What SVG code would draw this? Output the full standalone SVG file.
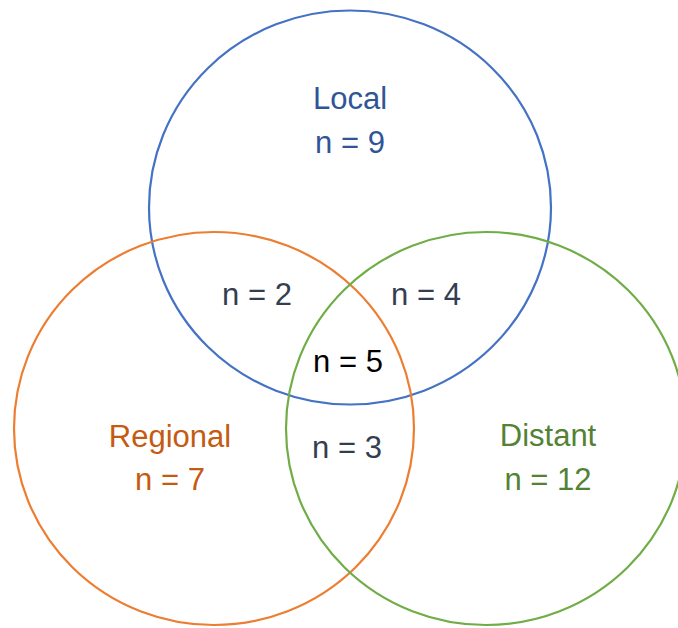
<svg xmlns="http://www.w3.org/2000/svg" width="678" height="628" viewBox="0 0 678 628">
<style>
.c{fill:none;stroke-width:2.2}
.t{font-family:"Liberation Sans",Arial,sans-serif;font-size:31px;text-anchor:middle}
.g{fill:#333f50}
</style>
<rect width="678" height="628" fill="#fff"/>
<g id="local"><ellipse class="c" cx="350" cy="207.5" rx="201" ry="197" stroke="#4472c4"/>
<text class="t" x="350" y="109" fill="#2f5597">Local</text>
<text class="t" x="350" y="153" fill="#2f5597">n = 9</text></g>
<g id="regional"><ellipse class="c" cx="214" cy="428.5" rx="200" ry="196.5" stroke="#ed7d31"/>
<text class="t" x="170" y="447" fill="#c55a11">Regional</text>
<text class="t" x="170" y="490" fill="#c55a11">n = 7</text></g>
<g id="distant"><ellipse class="c" cx="486" cy="428.5" rx="200" ry="196.5" stroke="#70ad47"/>
<text class="t" x="548" y="446" fill="#548235">Distant</text>
<text class="t" x="548" y="490" fill="#548235">n = 12</text></g>
<g id="overlaps">
<text class="t g" x="257" y="305">n = 2</text>
<text class="t g" x="426" y="305">n = 4</text>
<text class="t" x="348" y="372" fill="#000">n = 5</text>
<text class="t g" x="347" y="458">n = 3</text>
</g>
</svg>
